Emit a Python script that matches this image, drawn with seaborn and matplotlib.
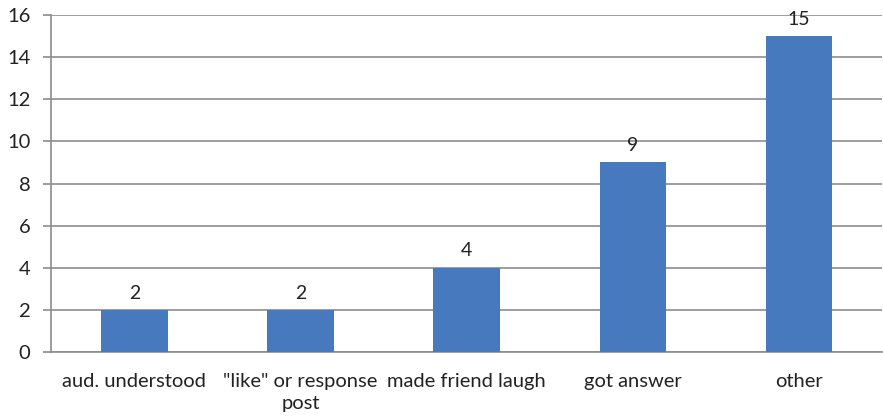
import matplotlib
matplotlib.use("Agg")
import matplotlib.pyplot as plt
import seaborn as sns
import pandas as pd
import numpy as np

# data
categories = ['aud. understood', '"like" or response\npost', 'made friend laugh',
              'got answer', 'other']
counts = [2, 2, 4, 9, 15]
y_ticks = [0, 2, 4, 6, 8, 10, 12, 14, 16]

df = pd.DataFrame({'category': categories, 'count': counts})

sns.set_style("white")
plt.rcParams['font.family'] = ['Lato', 'DejaVu Sans']

fig = plt.figure(figsize=(8.83, 4.18), dpi=100)
ax = fig.add_axes([0.058, 0.158, 0.941, 0.806])

sns.barplot(data=df, x='category', y='count', color='#4679bd', saturation=1,
            width=0.4, linewidth=0, ax=ax, zorder=3)
ax.bar_label(ax.containers[0], fmt='%d', padding=6, fontsize=14, color='#222222')

# gridlines and spines
ax.set_ylim(0, 16)
ax.set_yticks(y_ticks)
ax.yaxis.grid(True, color='#8c8c8c', linewidth=1.2, zorder=0)
for s in ['top', 'right']:
    ax.spines[s].set_visible(False)
for s in ['left', 'bottom']:
    ax.spines[s].set_color('#8c8c8c')
    ax.spines[s].set_linewidth(1.2)

ax.set_xlim(-0.5, len(categories) - 0.5)
ax.set_xticks(np.arange(len(categories) + 1) - 0.5, minor=True)
ax.tick_params(axis='x', which='minor', length=6, width=1.2, color='#8c8c8c')
ax.tick_params(axis='x', which='major', length=0, pad=15, labelsize=14.5, labelcolor='#222222')
ax.tick_params(axis='y', length=6, width=1.2, color='#8c8c8c', pad=9,
               labelsize=14.5, labelcolor='#222222', left=True)
for lbl in ax.get_xticklabels():
    lbl.set_linespacing(1.35)

ax.set_xlabel('')
ax.set_ylabel('')

plt.savefig("out.png", dpi=100)
